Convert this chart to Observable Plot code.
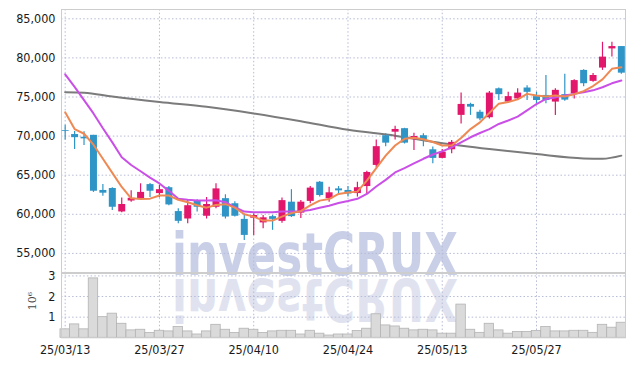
<!DOCTYPE html>
<html><head><meta charset="utf-8">
<script src="https://cdn.jsdelivr.net/npm/d3@7"></script>
<script src="https://cdn.jsdelivr.net/npm/@observablehq/plot@0.6"></script>
<style>
body{margin:0;background:#fff;}
#wrap{position:relative;width:634px;height:366px;overflow:hidden;background:#fff;}
#wm{position:absolute;left:0;top:0;}
#c1,#c2{position:absolute;left:0;}
#c1{top:0}#c2{top:262px}
</style></head><body>
<div id="wrap"><svg id="wm" width="634" height="366"></svg><div id="c1"></div><div id="c2"></div></div>
<script>
const dates = ["25/03/13","25/03/14","25/03/17","25/03/18","25/03/19","25/03/20","25/03/21","25/03/24","25/03/25","25/03/26",
"25/03/27","25/03/28","25/03/31","25/04/01","25/04/02","25/04/03","25/04/04","25/04/07","25/04/08","25/04/09",
"25/04/10","25/04/11","25/04/14","25/04/15","25/04/16","25/04/17","25/04/18","25/04/21","25/04/22","25/04/23",
"25/04/24","25/04/25","25/04/28","25/04/29","25/04/30","25/05/02","25/05/07","25/05/08","25/05/09","25/05/12",
"25/05/13","25/05/14","25/05/15","25/05/16","25/05/19","25/05/20","25/05/21","25/05/22","25/05/23","25/05/26",
"25/05/27","25/05/28","25/05/29","25/05/30","25/06/02","25/06/04","25/06/05","25/06/09","25/06/10","25/06/11"];
const open = [70700,70200,69850,70100,63050,63300,60300,61700,62000,63800,
62650,63400,60350,59400,61650,59750,60900,62000,61350,59350,
59500,58900,59700,59100,61550,60150,61650,64100,62000,63250,
63050,62650,63550,66250,70050,70500,70950,69550,70050,68250,
67150,68250,72650,74050,73050,72350,76050,74350,74750,76150,
75050,75200,74350,75300,75400,78400,77000,78700,81150,81450];
const high = [71400,70600,70550,70100,63800,63400,62100,63000,63900,63950,
63700,63550,60700,61750,61850,62150,63900,62500,61600,59850,
60050,59850,59850,62100,63150,61750,63550,64200,63450,63550,
63550,64100,65500,69500,70300,71250,71000,70350,70300,68600,
68300,69450,75500,74200,73300,75700,76150,75600,76050,76450,
75600,77750,76050,77900,77200,78500,78000,82000,82000,81450];
const low = [69500,68300,68800,62800,62300,60500,60200,61550,61850,62150,
62100,61100,58800,58800,60300,59400,60700,59400,59650,56650,
57300,58150,57950,58850,59600,59450,61350,62200,61550,62400,
62200,62200,62600,65950,68650,69500,68990,68150,68650,66450,
67100,67750,71550,72650,71950,72200,74550,74200,74550,74550,
74100,74150,72650,74450,74750,76300,76900,78400,80100,77900];
const close = [70600,69800,69650,62950,62700,60900,61250,62050,62800,62950,
63150,61200,59100,61100,60900,61250,63250,59650,59750,57300,
59850,59550,59350,61750,59700,61550,63350,62400,62750,63000,
62600,63400,65350,68650,69100,70850,69100,69950,69550,67150,
67950,69200,74050,73700,72200,75500,75300,75050,75500,75600,
74550,74550,75850,74600,77100,76700,77750,80100,81450,78050];
const ma5 = [73050,70900,70300,68900,67100,65300,63500,62050,61950,62000,
62400,62400,61850,61550,61150,60850,61200,61300,60850,60000,
59700,59200,59200,59700,60150,60400,61150,61750,61950,62600,
62800,62900,64300,65900,67500,68800,69650,69800,69600,69250,
68800,68800,69750,70900,71750,72950,74150,74350,74700,75400,
75200,75050,75200,75050,75350,75750,76400,77250,78600,78800];
const ma20 = [77900,76300,74600,72900,71000,69200,67300,66300,65500,64700,
63950,63000,62000,61850,61750,61750,61800,61550,60900,60350,
60250,60250,60250,60350,60350,60400,60550,60850,61100,61450,
61700,61980,62600,63550,64400,65350,65900,66500,67100,67650,
68050,68550,69200,69850,70400,70900,71550,72000,72500,73300,
74100,74750,74950,75200,75400,75600,75850,76250,76750,77100];
const ma120Idx = [0,2,5,10,15,20,25,30,35,40,45,50,55,57,59];
const ma120 = [75600,75550,75050,74350,73750,72900,71900,70800,70050,69100,68350,67700,67150,67100,67500];
const volume = [0.41,0.65,0.41,2.88,1.00,1.17,0.68,0.36,0.39,0.23,
0.34,0.31,0.52,0.31,0.16,0.31,0.63,0.39,0.23,0.44,
0.39,0.23,0.31,0.34,0.34,0.16,0.34,0.20,0.11,0.16,
0.16,0.33,0.44,1.14,0.60,0.55,0.44,0.36,0.39,0.36,
0.20,0.20,1.61,0.39,0.24,0.68,0.36,0.20,0.28,0.28,
0.33,0.52,0.31,0.31,0.34,0.34,0.24,0.63,0.49,0.73];
const priceTicks = [55000,60000,65000,70000,75000,80000,85000];
const volTicks = [1,2,3];
const xTickIdx = [0,10,20,30,40,50];

const RED = "#e2176b", BLUE = "#2f95c7";
const FONT = "'DejaVu Sans Condensed','Liberation Sans Narrow',sans-serif";
const candles = dates.map((d,i)=>({i, o:open[i], h:high[i], l:low[i], c:close[i]}));
const m5 = ma5.map((v,i)=>({i,v}));
const m20 = ma20.map((v,i)=>({i,v}));
const m120 = ma120.map((v,k)=>({i:ma120Idx[k],v}));
const vols = volume.map((v,i)=>({i,v}));
const up = d => d.c >= d.o, dn = d => d.c < d.o;
const grid = {stroke:"#b6bbd6", strokeOpacity:1, strokeDasharray:"1.5,2.2"};
const xDom = [-0.39, 59.44];

const p1 = Plot.plot({
  width:634, height:273, marginLeft:61, marginRight:9, marginTop:9, marginBottom:1,
  style:{background:"transparent", fontFamily:FONT, fontSize:"12.5px", color:"#1a1a1a"},
  x:{domain:xDom, axis:null},
  y:{domain:[52558,86189], axis:null},
  marks:[
    Plot.gridY(priceTicks, grid),
    Plot.gridX(xTickIdx, grid),
    Plot.frame({stroke:"#cdcdcd"}),
    Plot.axisY(priceTicks, {tickSize:0, tickPadding:6, tickFormat:d3.format(","), label:null}),
    Plot.lineY(m120, {x:"i", y:"v", stroke:"#7b7b7b", strokeWidth:2, curve:"monotone-x"}),
    Plot.ruleX(candles, {filter:up, x:"i", y1:"l", y2:"h", stroke:RED, strokeWidth:1.2}),
    Plot.ruleX(candles, {filter:dn, x:"i", y1:"l", y2:"h", stroke:BLUE, strokeWidth:1.2}),
    Plot.ruleX(candles, {filter:up, x:"i", y1:"o", y2:"c", stroke:RED, strokeWidth:7}),
    Plot.ruleX(candles, {filter:dn, x:"i", y1:"o", y2:"c", stroke:BLUE, strokeWidth:7}),
    Plot.lineY(m20, {x:"i", y:"v", stroke:"#c94fe6", strokeWidth:2}),
    Plot.lineY(m5, {x:"i", y:"v", stroke:"#ee8953", strokeWidth:2})
  ]
});
document.getElementById("c1").appendChild(p1);

const p2 = Plot.plot({
  width:634, height:104, marginLeft:61, marginRight:9, marginTop:11, marginBottom:28.7,
  style:{background:"transparent", fontFamily:FONT, fontSize:"12.5px", color:"#1a1a1a"},
  x:{domain:xDom, axis:null},
  y:{domain:[0,3.117], axis:null},
  marks:[
    Plot.gridY(volTicks, grid),
    Plot.gridX(xTickIdx, grid),
    Plot.rectY(vols, {x1:d=>d.i-0.5, x2:d=>d.i+0.5, y:"v", fill:"#dadada", stroke:"#b3b3b3", strokeWidth:0.8}),
    Plot.frame({stroke:"#cdcdcd"}),
    Plot.axisY(volTicks, {tickSize:0, tickPadding:6, label:null}),
    Plot.axisX(xTickIdx, {tickSize:0, tickPadding:7, tickFormat:i=>dates[i], label:null})
  ]
});
d3.select(p2).append("text")
  .attr("transform","translate(33,39) rotate(-90)")
  .attr("text-anchor","middle").attr("dominant-baseline","middle")
  .attr("font-family","'DejaVu Serif',serif").attr("font-size",11).attr("fill","#444")
  .text("10⁶");
document.getElementById("c2").appendChild(p2);

// watermark
const wm = d3.select("#wm");
const wmText = g => g.append("text").attr("x",172).attr("y",275)
  .attr("font-family","'DejaVu Sans',sans-serif").attr("font-weight","bold")
  .attr("font-size",59).attr("textLength",286).attr("lengthAdjust","spacingAndGlyphs")
  .text("investCRUX");
wmText(wm.append("g").attr("transform","translate(0,554) scale(1,-1)")).attr("fill","#e0e3ef");
wmText(wm.append("g")).attr("fill","#c8cfe6");
</script>
</body></html>
